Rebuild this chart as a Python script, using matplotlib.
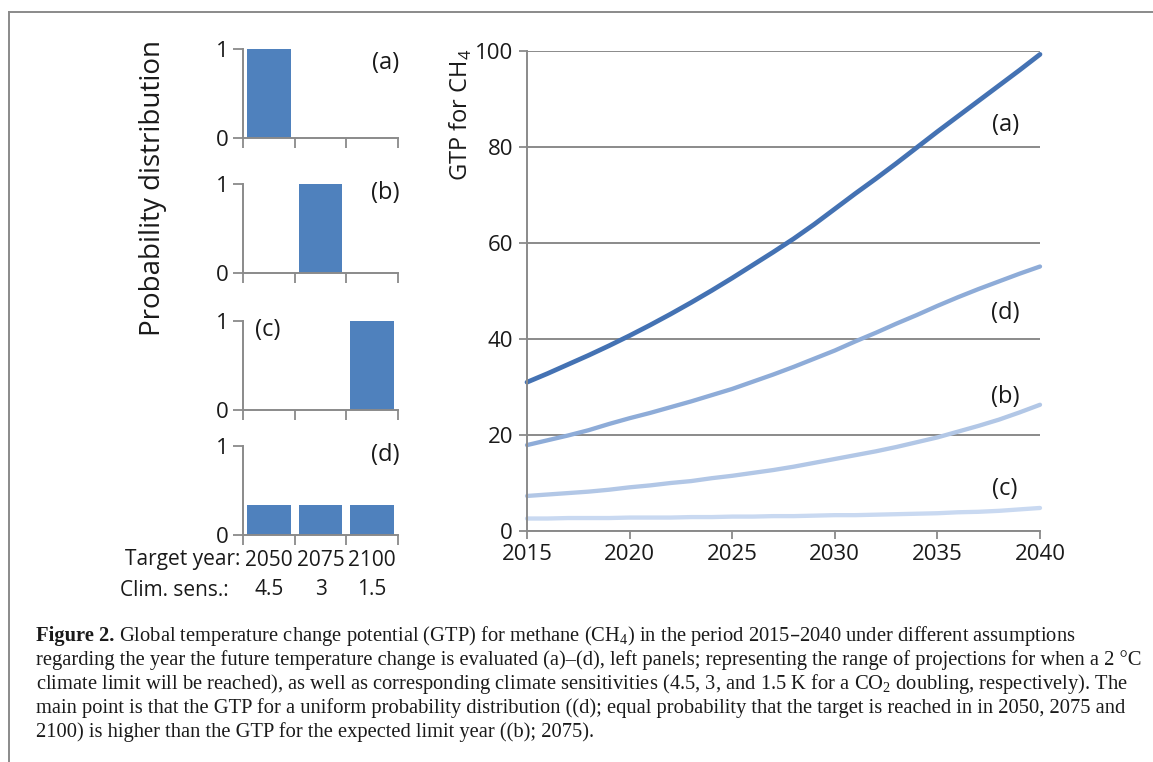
import numpy as np
import matplotlib
matplotlib.use("Agg")
import matplotlib.pyplot as plt
from matplotlib.lines import Line2D
from matplotlib.text import Annotation

plt.rcParams['font.family'] = ['Open Sans', 'DejaVu Sans']

# ---- data -------------------------------------------------------------
years = list(range(2015, 2041))
gtp_a = [31.0, 32.8, 34.7, 36.6, 38.6, 40.7, 42.9, 45.2, 47.6, 50.1, 52.7, 55.4, 58.1,
         60.9, 63.9, 67.1, 70.3, 73.4, 76.6, 79.9, 83.2, 86.4, 89.6, 92.8, 96.0, 99.3]
gtp_d = [17.9, 18.9, 19.9, 21.0, 22.3, 23.5, 24.6, 25.8, 27.0, 28.3, 29.6, 31.1, 32.6,
         34.2, 35.9, 37.6, 39.5, 41.3, 43.2, 45.0, 46.9, 48.7, 50.4, 52.0, 53.6, 55.1]
gtp_b = [7.3, 7.6, 7.9, 8.2, 8.6, 9.1, 9.5, 10.0, 10.4, 11.0, 11.5, 12.1, 12.7,
         13.4, 14.2, 15.0, 15.8, 16.6, 17.5, 18.5, 19.5, 20.7, 21.9, 23.2, 24.7, 26.3]
gtp_c = [2.6, 2.6, 2.7, 2.7, 2.7, 2.8, 2.8, 2.8, 2.9, 2.9, 3.0, 3.0, 3.1,
         3.1, 3.2, 3.3, 3.3, 3.4, 3.5, 3.6, 3.7, 3.9, 4.0, 4.2, 4.5, 4.8]

target_years = ['2050', '2075', '2100']
clim_sens = ['4.5', '3', '1.5']
prob_a = [1, 0, 0]
prob_b = [0, 1, 0]
prob_c = [0, 0, 1]
prob_d = [1 / 3, 1 / 3, 1 / 3]
panel_names = ['(a)', '(b)', '(c)', '(d)']

xticks_main = [2015, 2020, 2025, 2030, 2035, 2040]
yticks_main = [0, 20, 40, 60, 80, 100]

# ---- figure -----------------------------------------------------------
W, H = 1153, 762
fig = plt.figure(figsize=(W / 100, H / 100), dpi=100)
fig.patch.set_facecolor('white')


def fx(px):
    return px / W


def fy(py):
    return 1 - py / H


GRAY = '#8a8a8a'
INK = '#1a1a1a'
BAR = '#4F81BD'

# frame around the figure block
fig.add_artist(Line2D([fx(9), 1.0], [fy(12), fy(12)], color=GRAY, lw=1.4,
                      transform=fig.transFigure))
fig.add_artist(Line2D([fx(9), fx(9)], [fy(12), 0.0], color=GRAY, lw=1.4,
                      transform=fig.transFigure))

# ---- main GTP panel ---------------------------------------------------
ax = fig.add_axes([fx(527), fy(531), fx(1040) - fx(527), fy(51) - fy(531)])
ax.set_xlim(2015, 2040)
ax.set_ylim(0, 100)
for s in ['top', 'right']:
    ax.spines[s].set_visible(False)
for s in ['left', 'bottom']:
    ax.spines[s].set_color(GRAY)
    ax.spines[s].set_linewidth(1.4)
ax.set_yticks(yticks_main)
ax.set_xticks(xticks_main)
ax.yaxis.grid(True, color=GRAY, lw=1.4)
ax.set_axisbelow(True)
ax.tick_params(axis='both', colors=GRAY, labelcolor=INK, labelsize=16,
               length=6, width=1.3, direction='out')
ax.tick_params(axis='x', pad=3)
ax.tick_params(axis='y', pad=4)

series = [(gtp_c, '#C9D9F1', 3.1, '(c)', 8.8),
          (gtp_b, '#B2C7E6', 3.1, '(b)', 28.0),
          (gtp_d, '#8EACD8', 3.1, '(d)', 45.5),
          (gtp_a, '#4472B3', 3.4, '(a)', 84.5)]
for vals, col, lw, name, ly in series:
    ax.plot(years, vals, color=col, lw=lw, solid_capstyle='round', clip_on=False)
    ax.text(2038.3, ly, name, fontsize=17, ha='center', va='center', color=INK)

fig.text(fx(461), fy(115), r'GTP for CH$_\mathregular{4}$', rotation=90, fontsize=17,
         ha='center', va='center', color=INK)

# ---- probability distribution panels ---------------------------------
probs = [prob_a, prob_b, prob_c, prob_d]
bottoms_px = [138, 273, 410, 535]
label_pos = [(2.25, 0.84), (2.25, 0.9), (-0.02, 0.9), (2.25, 0.9)]
cats = np.arange(len(target_years))
for i, (p, b) in enumerate(zip(probs, bottoms_px)):
    pa = fig.add_axes([fx(243), fy(b), fx(398) - fx(243), fy(b - 89) - fy(b)])
    pa.bar(cats, p, width=0.85, color=BAR)
    pa.set_xlim(-0.5, 2.5)
    pa.set_ylim(0, 1)
    for s in ['top', 'right']:
        pa.spines[s].set_visible(False)
    for s in ['left', 'bottom']:
        pa.spines[s].set_color(GRAY)
        pa.spines[s].set_linewidth(1.4)
    pa.set_yticks([0, 1])
    pa.set_xticks([-0.5, 0.5, 1.5, 2.5])
    pa.set_xticklabels([])
    pa.tick_params(axis='both', colors=GRAY, labelcolor=INK, labelsize=16,
                   length=7, width=1.3, direction='out', pad=3)
    lx, ly = label_pos[i]
    pa.text(lx, ly, panel_names[i], fontsize=17, ha='center', va='center', color=INK)
    if i == 3:
        pa.set_xticks(cats, minor=True)
        pa.set_xticklabels([f'{y}\n{c}' for y, c in zip(target_years, clim_sens)],
                           minor=True, fontsize=15, linespacing=1.5)
        pa.tick_params(axis='x', which='minor', length=0, pad=11, labelcolor=INK)

fig.text(fx(240), fy(560), 'Target year:', fontsize=15, ha='right', va='center',
         color=INK)
fig.text(fx(229), fy(591), 'Clim. sens.:', fontsize=15, ha='right', va='center',
         color=INK)
fig.text(fx(153), fy(188), 'Probability distribution', rotation=90, fontsize=20,
         ha='center', va='center', color=INK)

# ---- caption -----------------------------------------------------------
cap_font = ['Liberation Serif', 'DejaVu Serif']
cap_size = 14.8
cap_lines = [
    r'Global temperature change potential (GTP) for methane (CH$_\mathregular{4}$) in the period 2015–2040 under different assumptions',
    'regarding the year the future temperature change is evaluated (a)–(d), left panels; representing the range of projections for when a 2 °C',
    r'climate limit will be reached), as well as corresponding climate sensitivities (4.5, 3, and 1.5 K for a CO$_\mathregular{2}$ doubling, respectively). The',
    'main point is that the GTP for a uniform probability distribution ((d); equal probability that the target is reached in in 2050, 2075 and',
    '2100) is higher than the GTP for the expected limit year ((b); 2075).',
]
line_y = [636, 660, 684, 708, 732]
head = fig.text(fx(36), fy(line_y[0]), 'Figure 2.', fontsize=cap_size, family=cap_font,
                fontweight='bold', ha='left', va='center', color=INK)
fig.add_artist(Annotation(
    cap_lines[0], xy=(1, 0.5), xycoords=head, xytext=(3, 0), textcoords='offset points',
    fontsize=cap_size, family=cap_font, ha='left', va='center', color=INK))
for txt, y in zip(cap_lines[1:], line_y[1:]):
    fig.text(fx(36), fy(y), txt, fontsize=cap_size, family=cap_font, ha='left',
             va='center', color=INK)

fig.savefig('out.png', dpi=100, facecolor='white')
